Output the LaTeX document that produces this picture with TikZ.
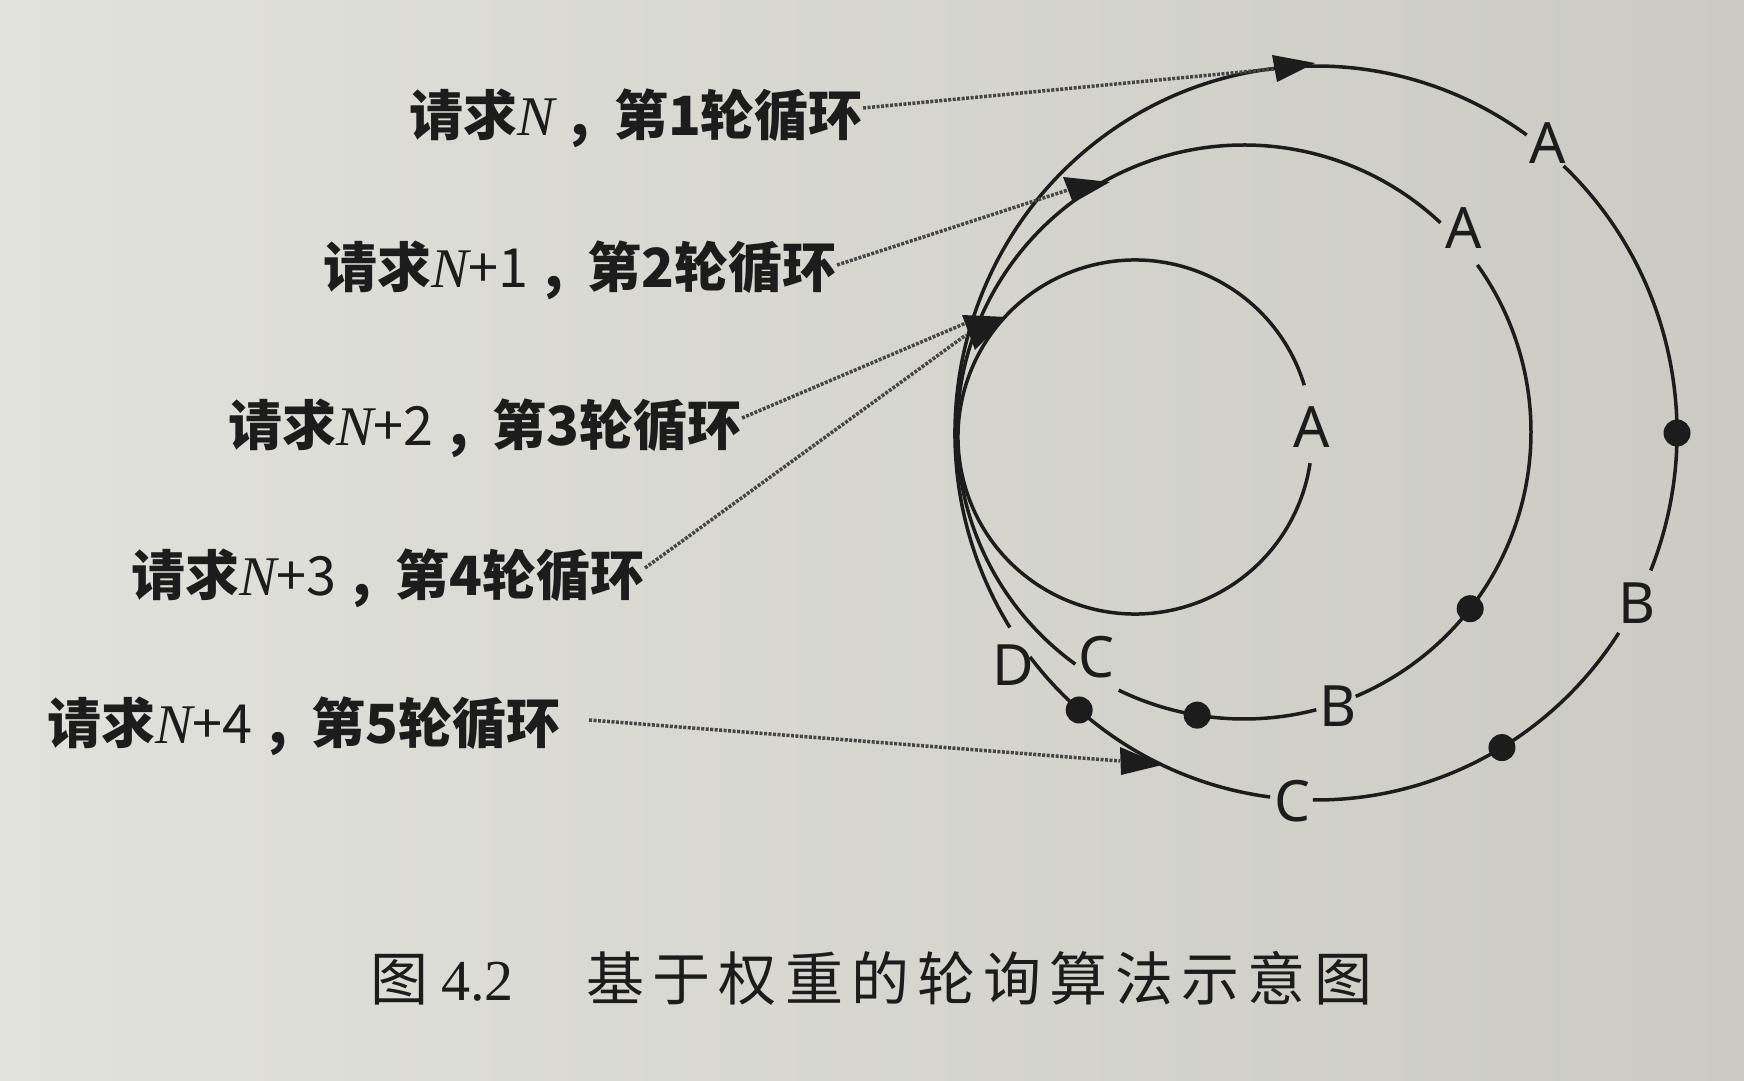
\documentclass[tikz,border=0pt]{standalone}
\usepackage{fontspec}
\usetikzlibrary{calc}
\newfontfamily\cjkfont{Noto Sans CJK SC}
\newfontfamily\tmsfont{Liberation Serif}
\newfontfamily\latfont{Noto Sans}
\definecolor{ink}{RGB}{28,28,28}
\definecolor{dotc}{RGB}{70,70,70}
\definecolor{bgL}{RGB}{226,226,220}
\definecolor{bgR}{RGB}{203,203,196}
\newcommand\reqline[2]{{\cjkfont\bfseries 请求}{\tmsfont\itshape\fontsize{56}{60}\selectfont N}{\cjkfont #1}\hspace{0.3em}{\cjkfont\bfseries ,}\hspace{0.45em}{\cjkfont\bfseries 第#2轮循环}}
\begin{document}
\begin{tikzpicture}[x=1pt,y=1pt,
  ring/.style={line width=3.5pt, draw=ink},
  leader/.style={line width=3.5pt, draw=dotc, dash pattern=on 3pt off 1.5pt},
  req/.style={anchor=west, inner sep=0pt, text=ink, font=\fontsize{54}{60}\selectfont},
  srv/.style={inner sep=0pt, text=ink, font=\latfont\fontsize{57}{60}\selectfont},
  dotmark/.style={circle, fill=ink, inner sep=0pt, minimum size=27pt},
  tipmark/.style={fill=ink}]
\shade[left color=bgL, right color=bgR] (0,0) rectangle (1744,1080);
\useasboundingbox (0,0) rectangle (1744,1080);

\coordinate (O) at (1316,647);
\coordinate (M) at (1244,648);
\coordinate (I) at (1135,643);

% outer ring
\draw[ring] ($(O)+(46.7:361pt and 367pt)$) arc[start angle=46.7,end angle=-22,x radius=361pt,y radius=367pt];
\draw[ring] ($(O)+(-33:361pt and 367pt)$) arc[start angle=-33,end angle=-90.5,x radius=361pt,y radius=367pt];
\draw[ring] ($(O)+(-97.3:361pt and 367pt)$) arc[start angle=-97.3,end angle=-142.4,x radius=361pt,y radius=367pt];
\draw[ring] ($(O)+(-148:361pt and 367pt)$) arc[start angle=-148,end angle=-305.7,x radius=361pt,y radius=367pt];
% middle ring
\draw[ring] ($(M)+(35.6:287pt)$) arc[start angle=35.6,end angle=-67.1,radius=287pt];
\draw[ring] ($(M)+(-75.4:287pt)$) arc[start angle=-75.4,end angle=-115.9,radius=287pt];
\draw[ring] ($(M)+(-126:287pt)$) arc[start angle=-126,end angle=-313.2,radius=287pt];
% inner ring
\draw[ring] ($(I)+(17:177pt)$) arc[start angle=17,end angle=351.5,radius=177pt];

% ring labels
\node[srv] (oA) at (1548,937) {A};
\node[srv] (oB) at (1637,477) {B};
\node[srv] (oC) at (1292,279) {C};
\node[srv] (oD) at (1013,415) {D};
\node[srv] (mA) at (1464,852) {A};
\node[srv] (mB) at (1338,374) {B};
\node[srv] (mC) at (1096,423) {C};
\node[srv] (iA) at (1312,653) {A};

% dots
\node[dotmark] (od1) at ($(O)+(0:361pt and 367pt)$) {};
\node[dotmark] (od2) at ($(O)+(-59:361pt and 367pt)$) {};
\node[dotmark] (od3) at ($(O)+(-131:361pt and 367pt)$) {};
\node[dotmark] (md1) at ($(M)+(-38:287pt)$) {};
\node[dotmark] (md2) at ($(M)+(-99.4:287pt)$) {};

% arrow heads
\coordinate (t1a) at (1272,1025); \coordinate (t1tip) at (1315,1017); \coordinate (t1b) at (1277,998);
\coordinate (t1base) at (1274,1011);
\coordinate (t2a) at (1063,903); \coordinate (t2tip) at (1110,898); \coordinate (t2b) at (1073,877);
\coordinate (t2base) at (1068,890);
\coordinate (t3a) at (962,765); \coordinate (t3b) at (1007,763); \coordinate (t3tip) at (975,730);
\coordinate (t3in) at (966,757); \coordinate (t4in) at (966,745);
\coordinate (t5a) at (1120,333); \coordinate (t5tip) at (1162,315); \coordinate (t5b) at (1121,305);
\coordinate (t5base) at (1120,319);

% request labels
\node[req] (r1) at (409,962) {\reqline{}{1}};
\node[req] (r2) at (323,810) {\reqline{+1}{2}};
\node[req] (r3) at (228,652) {\reqline{+2}{3}};
\node[req] (r4) at (131,502) {\reqline{+3}{4}};
\node[req] (r5) at (47,354) {\reqline{+4}{5}};

% leaders
\draw[leader] ([yshift=10pt]r1.east) -- (t1base);
\draw[leader] ([yshift=5pt]r2.east) -- (t2base);
\draw[leader] ([yshift=10pt]r3.east) -- (t3in);
\draw[leader] ([yshift=10pt]r4.east) -- (t4in);
\draw[leader] ([xshift=28pt,yshift=6pt]r5.east) -- (t5base);

\fill[tipmark] (t1a) -- (t1tip) -- (t1b) -- cycle;
\fill[tipmark] (t2a) -- (t2tip) -- (t2b) -- cycle;
\fill[tipmark] (t3a) -- (t3b) -- (t3tip) -- cycle;
\fill[tipmark] (t5a) -- (t5tip) -- (t5b) -- cycle;

% caption
\node[anchor=west, inner sep=0pt, text=ink] (cap) at (370,102) {\cjkfont\fontsize{58}{60}\selectfont 图\hspace{13pt}{\tmsfont 4.2}\hspace{73pt}{\addfontfeatures{LetterSpace=14}基于权重的轮询算法示意图}};
\end{tikzpicture}
\end{document}
